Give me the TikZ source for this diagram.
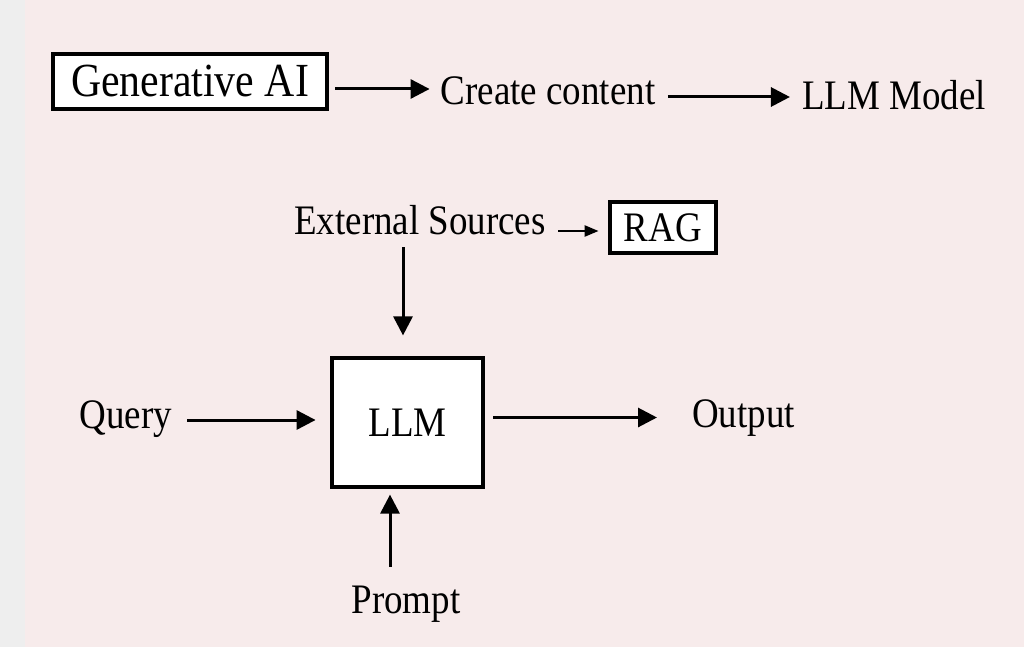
\documentclass[tikz,border=0pt]{standalone}
\usepackage{fontspec}
\setmainfont{Liberation Serif}
\usepackage{tikz}
\usetikzlibrary{arrows.meta,calc}
\definecolor{PageGrey}{HTML}{EEEEEE}
\definecolor{PagePink}{HTML}{F7EBEB}

\begin{document}
\begin{tikzpicture}[x=1pt,y=-1pt,
    lbl/.style={font=\fontsize{42}{50}\selectfont,inner sep=0pt,text height=28pt,text depth=9pt,xscale=0.88},
    boxed/.style={draw,line width=3.2pt,fill=white,inner sep=0pt,font=\fontsize{42}{50}\selectfont,xscale=0.88},
    arr/.style={-{Triangle[length=19pt,width=19pt]},line width=3pt},
    arrsmall/.style={-{Triangle[length=14pt,width=11pt]},line width=2.5pt}]
    % background
    \fill[PagePink] (0,0) rectangle (1024,647);
    \fill[PageGrey] (0,0) rectangle (25,647);
    % top row
    \node[boxed,minimum width=311.4pt,minimum height=55pt,font=\fontsize{47.5}{56}\selectfont] (genai) at (190,81.5) {Generative AI};
    \node[lbl] (create) at (548,95.5) {Create content};
    \node[lbl] (llmmodel) at (894,100.5) {LLM Model};
    \draw[arr,shorten <=7pt,shorten >=11pt] ([shift={(0,7.5)}]genai.east) -- ([shift={(0,-6.5)}]create.west);
    \draw[arr,shorten <=12.5pt,shorten >=12pt] ([shift={(0,1.5)}]create.east) -- ([shift={(0,-3.5)}]llmmodel.west);
    % retrieval
    \node[lbl] (ext) at (420,224.5) {External Sources};
    \node[boxed,minimum width=120.5pt,minimum height=51pt] (rag) at (663,227.5) {RAG};
    \draw[arrsmall,shorten <=12.5pt,shorten >=10pt] ([shift={(0,6.5)}]ext.east) -- ([shift={(0,3.5)}]rag.west);
    % model
    \node[boxed,minimum width=171.6pt,minimum height=129pt] (llm) at (407.5,422.5) {LLM};
    \node[lbl] (query) at (126,418.5) {Query};
    \node[lbl] (output) at (743.5,417.5) {Output};
    \node[lbl] (prompt) at (406,603.5) {Prompt};
    \draw[arr,shorten <=4pt,shorten >=21pt] ([shift={(-17,0)}]ext.south) -- ([shift={(-4.5,0)}]llm.north);
    \draw[arr,shorten <=15pt,shorten >=15pt] ([shift={(0,1.5)}]query.east) -- ([shift={(0,-2.5)}]llm.west);
    \draw[arr,shorten <=9pt,shorten >=35pt] ([shift={(0,-5)}]llm.east) -- (output.west);
    \draw[arr,shorten <=18pt,shorten >=6pt] ([shift={(-16,0)}]prompt.north) -- ([shift={(-17.5,0)}]llm.south);
\end{tikzpicture}
\end{document}
